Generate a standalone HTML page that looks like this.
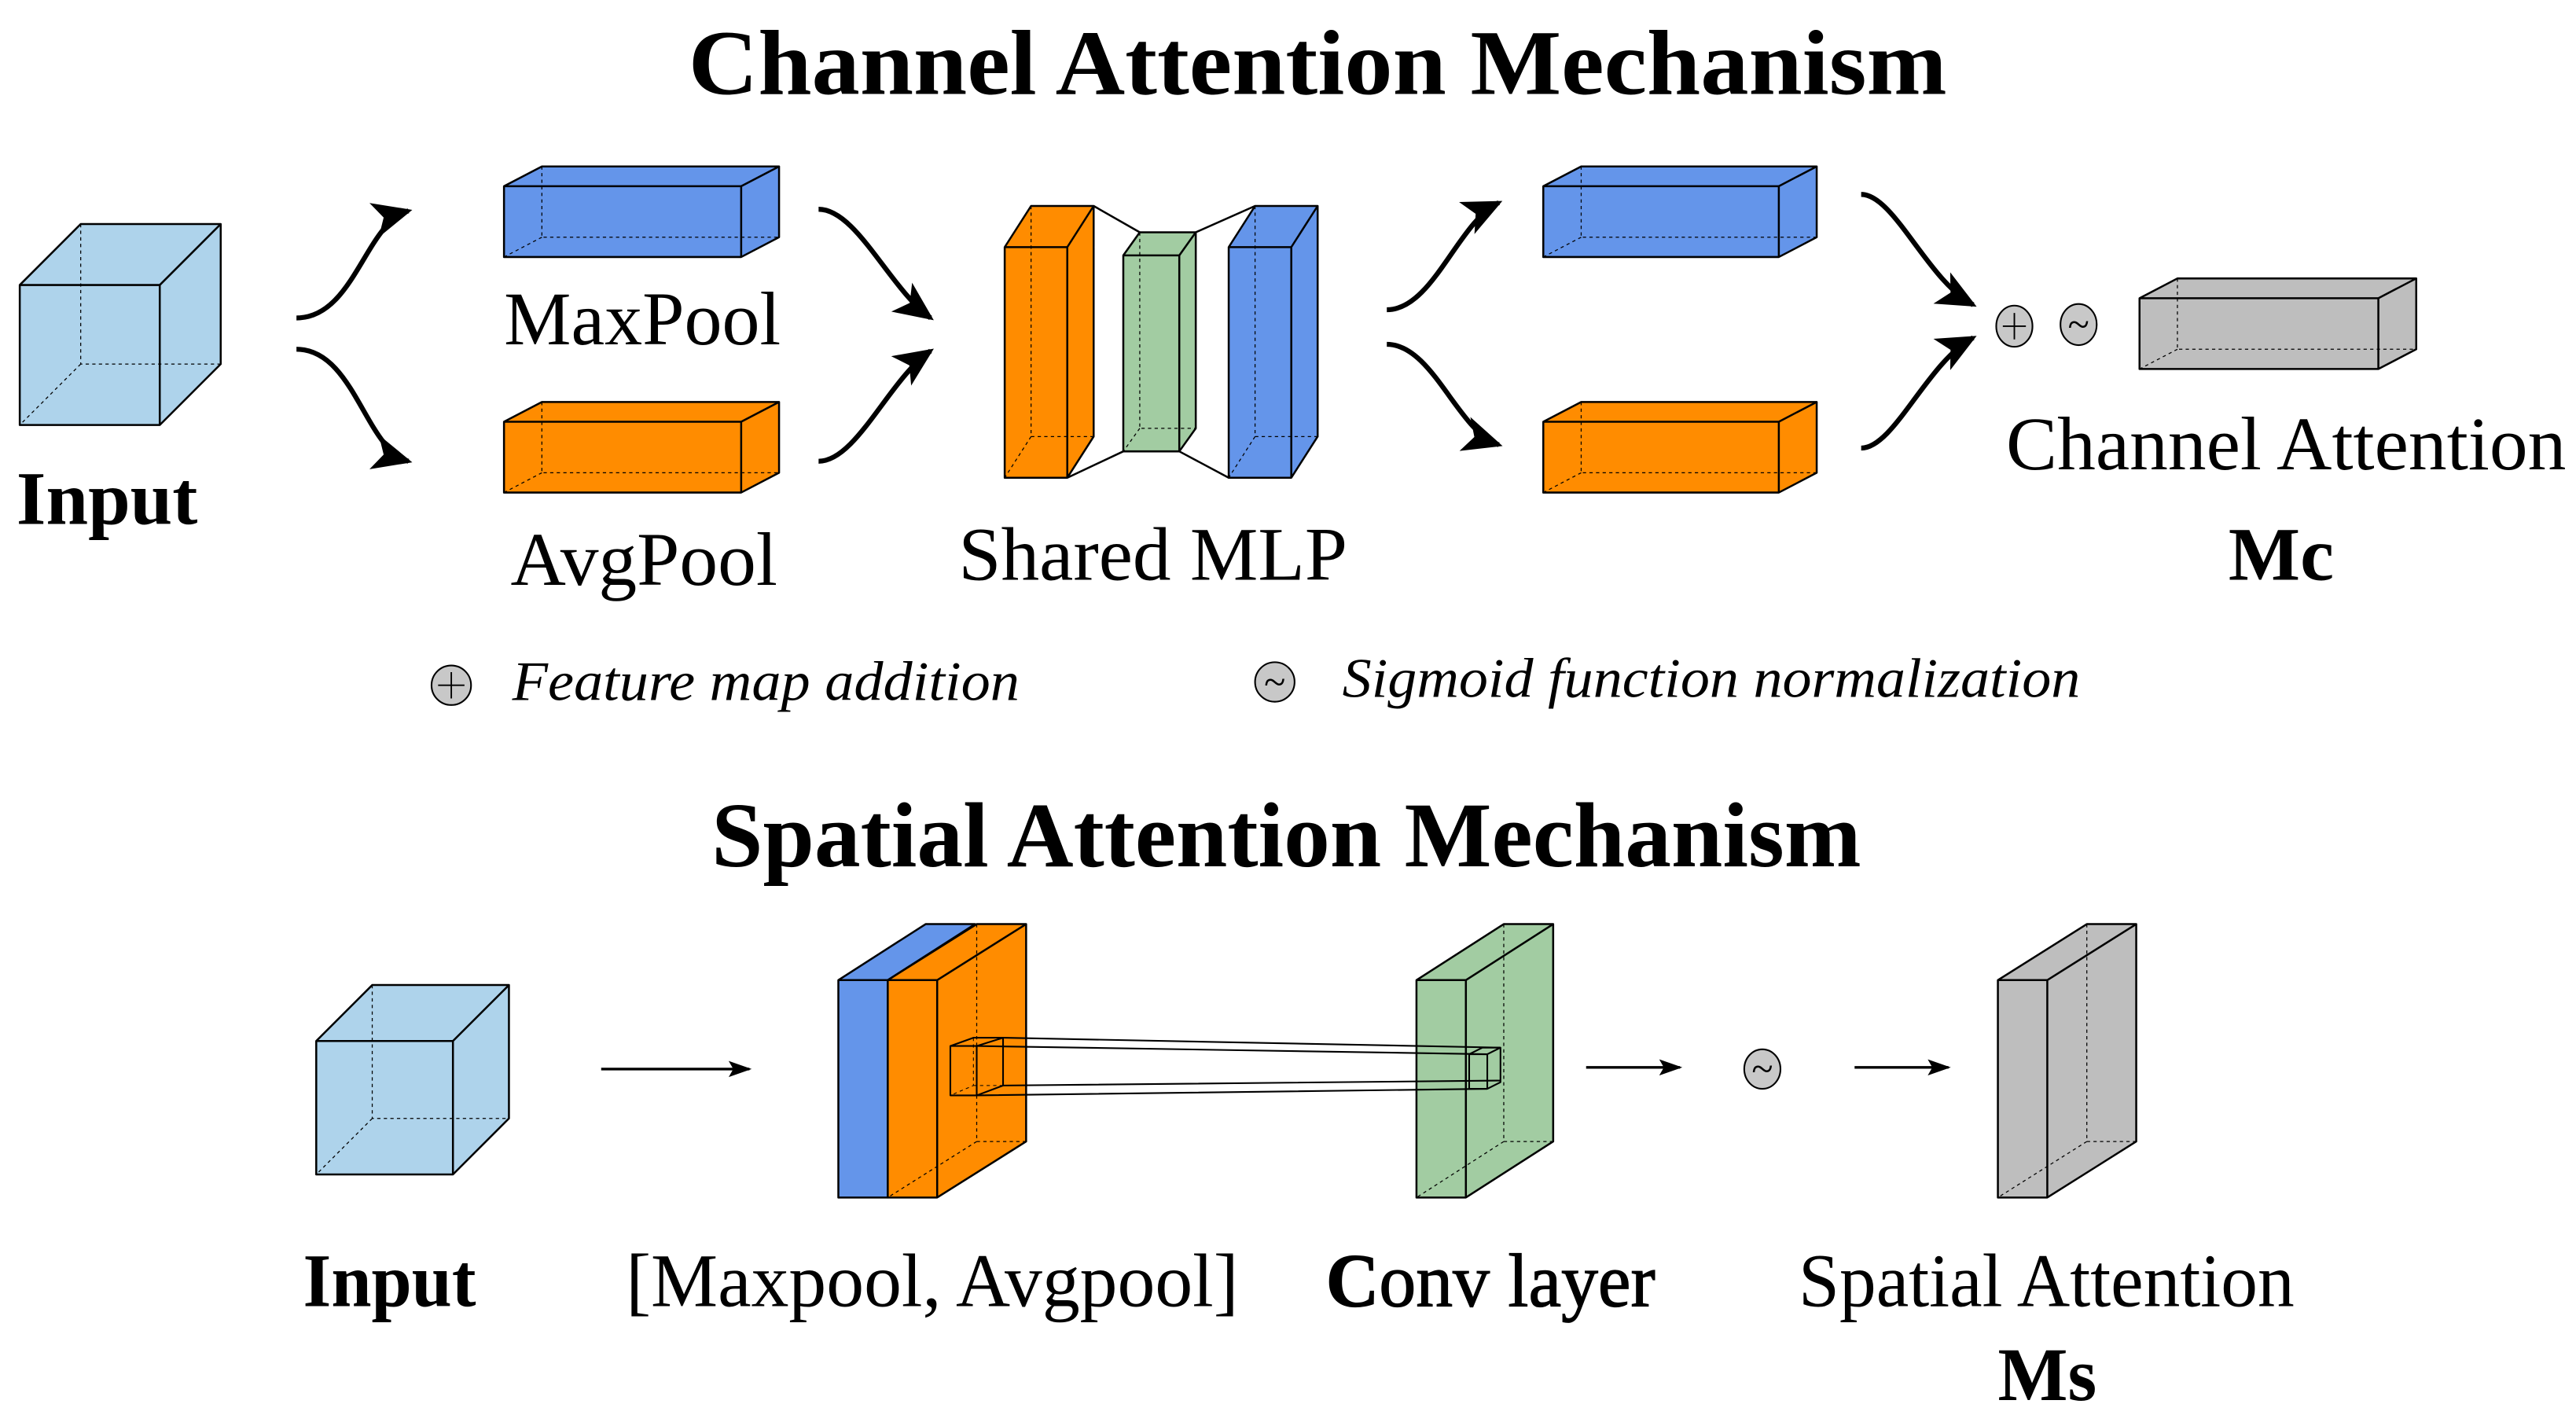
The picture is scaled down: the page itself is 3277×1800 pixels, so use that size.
<!DOCTYPE html>
<html><head><meta charset="utf-8"><style>html,body{margin:0;padding:0;background:#fff}svg{display:block}</style></head>
<body>
<svg width="3277" height="1800" viewBox="0 0 1564 859" xmlns="http://www.w3.org/2000/svg" font-family="'Liberation Serif', serif">
<defs>
<marker id="ah2" viewBox="0 0 10 10" refX="9" refY="5" markerWidth="24" markerHeight="24" orient="auto" markerUnits="userSpaceOnUse">
<path d="M0,0.5 L10,5 L0,9.5 L2.5,5 z" fill="#000"/></marker>
<marker id="ah3" viewBox="0 0 10 10" refX="9" refY="5" markerWidth="14" markerHeight="14" orient="auto" markerUnits="userSpaceOnUse">
<path d="M0,1.5 L10,5 L0,8.5 L2,5 z" fill="#000"/></marker>
</defs>

<text x="418" y="57" font-size="56" font-weight="bold" textLength="764" lengthAdjust="spacingAndGlyphs">Channel Attention Mechanism</text>
<text x="432" y="526" font-size="56" font-weight="bold" textLength="698" lengthAdjust="spacingAndGlyphs">Spatial Attention Mechanism</text>

<g stroke="#000" stroke-width="1.2" stroke-linejoin="round">
<polygon points="12,173 49,136 134,136 134,221 97,258 12,258" fill="#aed3eb"/>
<g fill="none" stroke-width="0.6" stroke-dasharray="2,2"><path d="M49,136 L49,221 L134,221 M49,221 L12,258"/></g>
<path d="M12,173 L97,173 L134,136 M97,173 L97,258" fill="none"/>

<polygon points="306,113 329,101 473,101 473,144 450,156 306,156" fill="#6495ea"/>
<g fill="none" stroke-width="0.6" stroke-dasharray="2,2"><path d="M329,101 L329,144 L473,144 M329,144 L306,156"/></g>
<path d="M306,113 L450,113 L473,101 M450,113 L450,156" fill="none"/>
<polygon points="306,256 329,244 473,244 473,287 450,299 306,299" fill="#ff8c00"/>
<g fill="none" stroke-width="0.6" stroke-dasharray="2,2"><path d="M329,244 L329,287 L473,287 M329,287 L306,299"/></g>
<path d="M306,256 L450,256 L473,244 M450,256 L450,299" fill="none"/>

<path d="M664,125 L692,141 M648,290 L682,274 M726,141 L762,125 M716,274 L746,290" fill="none"/>
<polygon points="610,150 626,125 664,125 664,265 648,290 610,290" fill="#ff8c00"/>
<g fill="none" stroke-width="0.6" stroke-dasharray="2,2"><path d="M626,125 L626,265 L664,265 M626,265 L610,290"/></g>
<path d="M610,150 L648,150 L664,125 M648,150 L648,290" fill="none"/>
<polygon points="682,155 692,141 726,141 726,260 716,274 682,274" fill="#a2cca2"/>
<g fill="none" stroke-width="0.6" stroke-dasharray="2,2"><path d="M692,141 L692,260 L726,260 M692,260 L682,274"/></g>
<path d="M682,155 L716,155 L726,141 M716,155 L716,274" fill="none"/>
<polygon points="746,150 762,125 800,125 800,265 784,290 746,290" fill="#6495ea"/>
<g fill="none" stroke-width="0.6" stroke-dasharray="2,2"><path d="M762,125 L762,265 L800,265 M762,265 L746,290"/></g>
<path d="M746,150 L784,150 L800,125 M784,150 L784,290" fill="none"/>

<polygon points="937,113 960,101 1103,101 1103,144 1080,156 937,156" fill="#6495ea"/>
<g fill="none" stroke-width="0.6" stroke-dasharray="2,2"><path d="M960,101 L960,144 L1103,144 M960,144 L937,156"/></g>
<path d="M937,113 L1080,113 L1103,101 M1080,113 L1080,156" fill="none"/>
<polygon points="937,256 960,244 1103,244 1103,287 1080,299 937,299" fill="#ff8c00"/>
<g fill="none" stroke-width="0.6" stroke-dasharray="2,2"><path d="M960,244 L960,287 L1103,287 M960,287 L937,299"/></g>
<path d="M937,256 L1080,256 L1103,244 M1080,256 L1080,299" fill="none"/>

<polygon points="1299,181 1322,169 1467,169 1467,212 1444,224 1299,224" fill="#bebebe"/>
<g fill="none" stroke-width="0.6" stroke-dasharray="2,2"><path d="M1322,169 L1322,212 L1467,212 M1322,212 L1299,224"/></g>
<path d="M1299,181 L1444,181 L1467,169 M1444,181 L1444,224" fill="none"/>

<ellipse cx="1223" cy="198" rx="11" ry="12.5" fill="#c8c8c8" stroke-width="1"/>
<path d="M1216,198 H1230 M1223,190 V206" stroke-width="0.9"/>
<ellipse cx="1262" cy="197" rx="11" ry="12.5" fill="#c8c8c8" stroke-width="1"/>
<ellipse cx="274" cy="416" rx="12" ry="12" fill="#c8c8c8" stroke-width="1"/>
<path d="M266,416 H282 M274,408 V424" stroke-width="0.9"/>
<ellipse cx="774" cy="414" rx="12" ry="12" fill="#c8c8c8" stroke-width="1"/>
</g>
<text x="1262" y="205" font-size="24" text-anchor="middle">~</text>
<text x="774" y="422" font-size="24" text-anchor="middle">~</text>

<g fill="none" stroke="#000" stroke-width="3" marker-end="url(#ah2)">
<path d="M180,193 C215,193 222,135 248,128"/>
<path d="M180,212 C215,212 222,273 248,280"/>
<path d="M497,127 C520,127 540,175 565,193"/>
<path d="M497,280 C520,280 540,230 565,213"/>
<path d="M842,188 C870,188 885,135 910,123"/>
<path d="M842,209 C870,209 885,262 910,270"/>
<path d="M1130,118 C1150,118 1170,170 1198,185"/>
<path d="M1130,272 C1150,272 1170,220 1198,205"/>
</g>

<text x="10" y="318" font-size="46" font-weight="bold" textLength="110" lengthAdjust="spacingAndGlyphs">Input</text>
<text x="306" y="209" font-size="46" textLength="168" lengthAdjust="spacingAndGlyphs">MaxPool</text>
<text x="310" y="355" font-size="46" textLength="162" lengthAdjust="spacingAndGlyphs">AvgPool</text>
<text x="582" y="352" font-size="46" textLength="236" lengthAdjust="spacingAndGlyphs">Shared MLP</text>
<text x="1218" y="285" font-size="46" textLength="340" lengthAdjust="spacingAndGlyphs">Channel Attention</text>
<text x="1353" y="352" font-size="46" font-weight="bold" textLength="64" lengthAdjust="spacingAndGlyphs">Mc</text>
<text x="311" y="425" font-size="34" font-style="italic" textLength="308" lengthAdjust="spacingAndGlyphs">Feature map addition</text>
<text x="815" y="423" font-size="34" font-style="italic" textLength="448" lengthAdjust="spacingAndGlyphs">Sigmoid function normalization</text>

<g stroke="#000" stroke-width="1.2" stroke-linejoin="round">
<polygon points="192,632 226,598 309,598 309,679 275,713 192,713" fill="#aed3eb"/>
<g fill="none" stroke-width="0.6" stroke-dasharray="2,2"><path d="M226,598 L226,679 L309,679 M226,679 L192,713"/></g>
<path d="M192,632 L275,632 L309,598 M275,632 L275,713" fill="none"/>

<polygon points="509,595 562,561 592,561 592,693 539,727 509,727" fill="#6495ea"/>
<path d="M509,595 L539,595 L592,561 M539,595 L539,727" fill="none"/>
<polygon points="539,595 593,561 623,561 623,693 569,727 539,727" fill="#ff8c00"/>
<g fill="none" stroke-width="0.6" stroke-dasharray="2,2"><path d="M593,561 L593,693 L623,693 M593,693 L539,727"/></g>
<path d="M539,595 L569,595 L623,561 M569,595 L569,727" fill="none"/>
<polygon points="860,595 913,561 943,561 943,693 890,727 860,727" fill="#a2cca2"/>
<g fill="none" stroke-width="0.6" stroke-dasharray="2,2"><path d="M913,561 L913,693 L943,693 M913,693 L860,727"/></g>
<path d="M860,595 L890,595 L943,561 M890,595 L890,727" fill="none"/>
<polygon points="1213,595 1267,561 1297,561 1297,693 1243,727 1213,727" fill="#bebebe"/>
<g fill="none" stroke-width="0.6" stroke-dasharray="2,2"><path d="M1267,561 L1267,693 L1297,693 M1267,693 L1213,727"/></g>
<path d="M1213,595 L1243,595 L1297,561 M1243,595 L1243,727" fill="none"/>

<g fill="none" stroke-width="1">
<path d="M577,635 L593,635 L593,665 L577,665 Z M577,635 L591,630 L609,630 L609,659 L593,665 M593,635 L609,630"/>
<path d="M591,630 L591,659 L577,665 M591,659 L609,659" stroke-width="0.5" stroke-dasharray="2,2"/>
<path d="M892,640 L903,640 L903,661 L892,661 Z M892,640 L900,636 L911,636 L911,657 L903,661 M903,640 L911,636"/>
<path d="M609,630 L911,636 M593,635 L903,640 M609,659 L911,656 M593,665 L903,661"/>
</g>
<ellipse cx="1070" cy="649" rx="11" ry="12" fill="#c8c8c8" stroke-width="1"/>
</g>
<text x="1070" y="657" font-size="24" text-anchor="middle">~</text>

<g stroke="#000" stroke-width="1.6" marker-end="url(#ah3)">
<line x1="365" y1="649" x2="455" y2="649"/>
<line x1="963" y1="648" x2="1020" y2="648"/>
<line x1="1126" y1="648" x2="1183" y2="648"/>
</g>

<text x="184" y="793" font-size="46" font-weight="bold" textLength="105" lengthAdjust="spacingAndGlyphs">Input</text>
<text x="380" y="793" font-size="46" textLength="372" lengthAdjust="spacingAndGlyphs">[Maxpool,  Avgpool]</text>
<text x="805" y="793" font-size="46" textLength="200" lengthAdjust="spacingAndGlyphs" stroke="#000" stroke-width="0.6"><tspan font-weight="bold">C</tspan>onv layer</text>
<text x="1092" y="793" font-size="46" textLength="301" lengthAdjust="spacingAndGlyphs">Spatial Attention</text>
<text x="1213" y="850" font-size="46" font-weight="bold" textLength="60" lengthAdjust="spacingAndGlyphs">Ms</text>
</svg>
</body></html>
